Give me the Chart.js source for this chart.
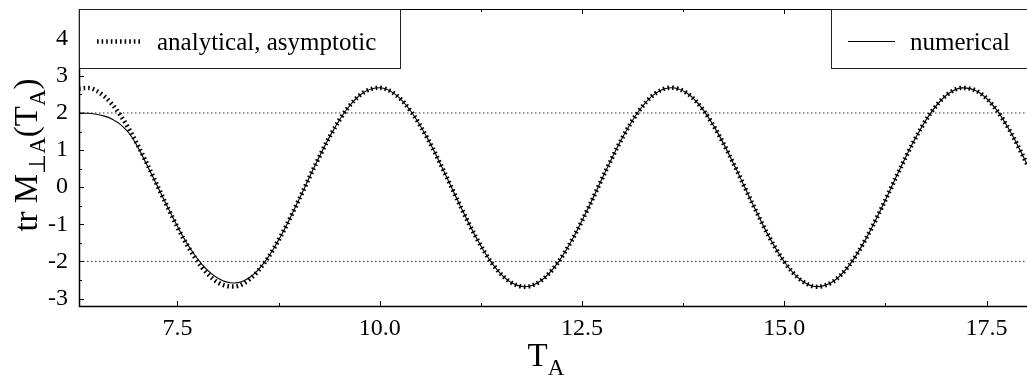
<!DOCTYPE html>
<html><head><meta charset="utf-8">
<script src="https://cdn.jsdelivr.net/npm/chart.js@4.4.1/dist/chart.umd.min.js"></script>
<style>html,body{margin:0;padding:0;background:#fff;}#wrap{width:1027px;height:379px;position:relative;}</style>
</head><body><div id="wrap"><canvas id="c" width="1027" height="379"></canvas></div>
<script>
// ---- data ----
const T = [6.283, 6.4, 6.5, 6.6, 6.7, 6.8, 6.9, 7.0, 7.1, 7.2, 7.4, 7.6, 7.8, 8.0, 8.2, 8.4, 8.6, 8.8,
  9.0, 9.2, 9.4, 9.6, 9.8, 10.0, 10.2, 10.4, 10.6, 10.8, 11.0, 11.2, 11.4, 11.6, 11.8, 12.0, 12.2, 12.4,
  12.6, 12.8, 13.0, 13.2, 13.4, 13.6, 13.8, 14.0, 14.2, 14.4, 14.6, 14.8, 15.0, 15.2, 15.4, 15.6, 15.8,
  16.0, 16.2, 16.4, 16.6, 16.8, 17.0, 17.2, 17.4, 17.6, 17.8, 18.0];
const analytical = [2.657, 2.672, 2.596, 2.442, 2.215, 1.922, 1.570, 1.172, 0.739, 0.284, -0.638, -1.485,
  -2.154, -2.568, -2.676, -2.465, -1.962, -1.225, -0.341, 0.582, 1.436, 2.120, 2.551, 2.678, 2.488, 2.000,
  1.276, 0.399, -0.525, -1.386, -2.084, -2.532, -2.680, -2.508, -2.039, -1.327, -0.457, 0.468, 1.337, 2.046,
  2.513, 2.680, 2.529, 2.076, 1.376, 0.514, -0.410, -1.286, -2.008, -2.492, -2.679, -2.547, -2.113, -1.426,
  -0.571, 0.353, 1.235, 1.969, 2.470, 2.676, 2.564, 2.148, 1.475, 0.627];
const numerical = [2.000, 1.990, 1.965, 1.915, 1.825, 1.680, 1.460, 1.120, 0.700, 0.260, -0.630, -1.450,
  -2.070, -2.450, -2.580, -2.420, -1.950, -1.225, -0.341, 0.582, 1.436, 2.120, 2.551, 2.678, 2.488, 2.000,
  1.276, 0.399, -0.525, -1.386, -2.084, -2.532, -2.680, -2.508, -2.039, -1.327, -0.457, 0.468, 1.337, 2.046,
  2.513, 2.680, 2.529, 2.076, 1.376, 0.514, -0.410, -1.286, -2.008, -2.492, -2.679, -2.547, -2.113, -1.426,
  -0.571, 0.353, 1.235, 1.969, 2.470, 2.676, 2.564, 2.148, 1.475, 0.627];
const refLevels = [2, -2];
const xTickLabels = [7.5, 10.0, 12.5, 15.0, 17.5];
const xMinorTicks = [8.75, 11.25, 13.75, 16.25];
const yTickLabels = [-3, -2, -1, 0, 1, 2, 3, 4];
const yMinorTicks = [-2.5, -1.5, -0.5, 0.5, 1.5, 2.5, 3.5, 4.5];
const seriesNames = ['analytical, asymptotic', 'numerical'];
const X_MIN = 6.283, X_MAX = 18.0, Y_MIN = -3.2, Y_MAX = 4.8;

const SERIF = '"Liberation Serif", "Times New Roman", serif';
const pts = (ys) => T.map((x, i) => ({x, y: ys[i]}));

const refSets = refLevels.map(v => ({
  label: 'ref' + v, data: [{x: X_MIN, y: v}, {x: X_MAX, y: v}],
  borderColor: '#333', borderWidth: 1, borderDash: [1.5, 2.5], pointRadius: 0, tension: 0
}));

const decor = {
  id: 'decor',
  afterDraw(chart) {
    const ctx = chart.ctx, a = chart.chartArea;
    const xs = chart.scales.x, ys = chart.scales.y;
    ctx.save();
    ctx.setLineDash([]);
    ctx.strokeStyle = '#000';
    // frame
    ctx.lineWidth = 1.5;
    ctx.beginPath();
    ctx.moveTo(a.left + 0.5, a.top); ctx.lineTo(a.left + 0.5, a.bottom + 0.5);
    ctx.lineTo(a.right, a.bottom + 0.5);
    ctx.stroke();
    ctx.lineWidth = 1;
    ctx.beginPath(); ctx.moveTo(a.left, a.top + 0.5); ctx.lineTo(a.right, a.top + 0.5); ctx.stroke();
    // inward ticks
    const tick = (arr, len) => {
      arr.forEach(v => {
        const px = Math.round(xs.getPixelForValue(v)) + 0.5;
        ctx.beginPath(); ctx.moveTo(px, a.bottom); ctx.lineTo(px, a.bottom - len); ctx.stroke();
        ctx.beginPath(); ctx.moveTo(px, a.top); ctx.lineTo(px, a.top + len); ctx.stroke();
      });
    };
    const ytick = (arr, len) => {
      arr.forEach(v => {
        const py = Math.round(ys.getPixelForValue(v)) + 0.5;
        ctx.beginPath(); ctx.moveTo(a.left, py); ctx.lineTo(a.left + len, py); ctx.stroke();
      });
    };
    ctx.lineWidth = 1;
    tick(xTickLabels, 5); tick(xMinorTicks, 3);
    ytick(yTickLabels, 5); ytick(yMinorTicks, 3);

    // legend boxes
    ctx.fillStyle = '#fff';
    ctx.strokeStyle = '#222';
    ctx.lineWidth = 1;
    ctx.fillRect(a.left, a.top, 321, 59);
    ctx.strokeRect(a.left + 0.5, a.top + 0.5, 321, 59);
    ctx.fillRect(831, a.top, 210, 59);
    ctx.strokeRect(831.5, a.top + 0.5, 210, 59);
    // sample dotted
    const dsA = chart.data.datasets[0];
    ctx.strokeStyle = '#000';
    ctx.lineWidth = dsA.borderWidth;
    ctx.lineCap = 'butt';
    ctx.setLineDash(dsA.borderDash);
    ctx.beginPath(); ctx.moveTo(97, 41.5); ctx.lineTo(141, 41.5); ctx.stroke();
    ctx.setLineDash([]);
    ctx.lineWidth = 1;
    ctx.beginPath(); ctx.moveTo(848, 41.5); ctx.lineTo(895, 41.5); ctx.stroke();
    ctx.fillStyle = '#000';
    ctx.font = '25px ' + SERIF;
    ctx.textBaseline = 'alphabetic';
    ctx.textAlign = 'left';
    ctx.fillText(chart.data.datasets[0].label, 157, 50);
    ctx.fillText(chart.data.datasets[1].label, 910, 50);

    // x title  T_A
    const big = '33px ' + SERIF, small = '23px ' + SERIF;
    ctx.font = big;
    const wT = ctx.measureText('T').width;
    ctx.font = small;
    const wA = ctx.measureText('A').width;
    const cx = 546, x0 = cx - (wT + wA) / 2;
    ctx.font = big; ctx.fillText('T', x0, 366);
    ctx.font = small; ctx.fillText('A', x0 + wT, 375);

    // y title  tr M_{⊥A}(T_A)
    const segs = [['tr M', big, 0], ['\u22A5A', small, 8], ['(T', big, 0], ['A', small, 8], [')', big, 0]];
    let total = 0;
    segs.forEach(s => { ctx.font = s[1]; s.push(ctx.measureText(s[0]).width); total += s[3]; });
    ctx.translate(37, 155);
    ctx.rotate(-Math.PI / 2);
    let xx = -total / 2;
    segs.forEach(s => { ctx.font = s[1]; ctx.fillText(s[0], xx, s[2]); xx += s[3]; });
    ctx.restore();
  }
};

new Chart(document.getElementById('c'), {
  type: 'line',
  data: {
    datasets: [
      { label: seriesNames[0], data: pts(analytical), borderColor: '#000', borderWidth: 4.5,
        borderDash: [1.6, 3], borderCapStyle: 'butt', pointRadius: 0, cubicInterpolationMode: 'monotone' },
      { label: seriesNames[1], data: pts(numerical), borderColor: '#000', borderWidth: 1.1,
        pointRadius: 0, cubicInterpolationMode: 'monotone' },
      ...refSets
    ]
  },
  options: {
    responsive: false, animation: false, devicePixelRatio: 1,
    layout: { padding: { top: 9, left: 0, right: 0, bottom: 0 } },
    plugins: { legend: { display: false }, tooltip: { enabled: false } },
    scales: {
      x: {
        type: 'linear', min: X_MIN, max: X_MAX,
        grid: { display: false, drawTicks: false }, border: { display: false },
        ticks: { font: { family: SERIF, size: 24 }, color: '#000', padding: 8, maxRotation: 0,
          callback: v => Number(v).toFixed(1) },
        afterBuildTicks: s => { s.ticks = xTickLabels.map(v => ({ value: v })); },
        afterFit: s => { s.height = 73; s.paddingLeft = 0; s.paddingRight = 0; }
      },
      y: {
        type: 'linear', min: Y_MIN, max: Y_MAX,
        grid: { display: false, drawTicks: false }, border: { display: false },
        ticks: { font: { family: SERIF, size: 24 }, color: '#000', padding: 11,
          callback: v => String(v) },
        afterBuildTicks: s => { s.ticks = yTickLabels.map(v => ({ value: v })); },
        afterFit: s => { s.width = 79; s.paddingTop = 0; s.paddingBottom = 0; }
      }
    }
  },
  plugins: [decor]
});
</script>
</body></html>
